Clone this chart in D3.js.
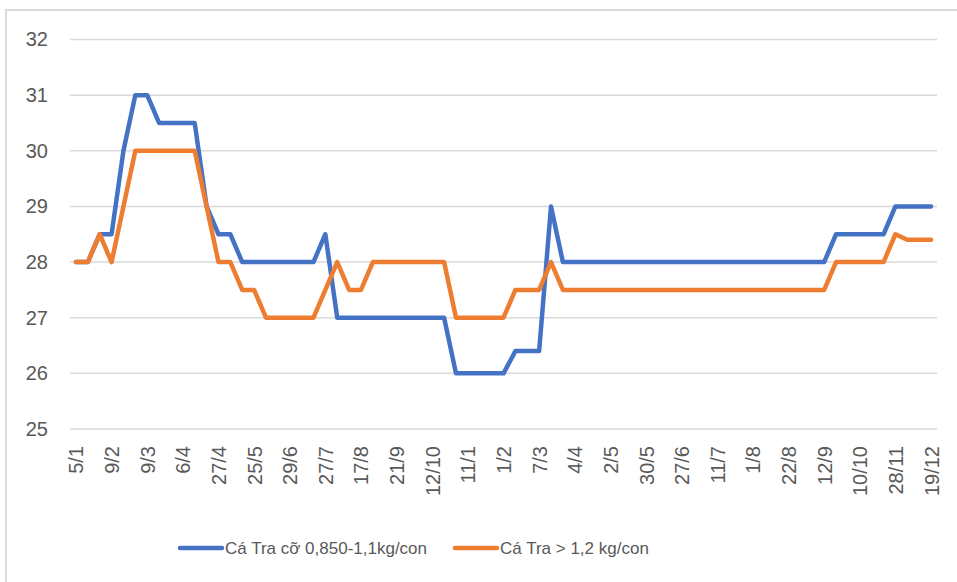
<!DOCTYPE html>
<html>
<head>
<meta charset="utf-8">
<script src="https://cdn.jsdelivr.net/npm/d3@7"></script>
<style>
  html, body { margin: 0; padding: 0; background: #fff; }
  svg text { font-family: "Liberation Sans", Arial, sans-serif; fill: #595959; }
</style>
</head>
<body>
<div id="chart"></div>
<script>
// Tick labels shown on the x axis (one every 3 observations).
const tickLabels = ["5/1", "9/2", "9/3", "6/4", "27/4", "25/5", "29/6", "27/7", "17/8", "21/9", "12/10", "11/1",
    "1/2", "7/3", "4/4", "2/5", "30/5", "27/6", "11/7", "1/8", "22/8", "12/9", "10/10", "28/11", "19/12"];
const labelStep = 3;

const smallFish = [28, 28, 28.5, 28.5, 30, 31, 31, 30.5, 30.5, 30.5, 30.5, 29, 28.5, 28.5, 28, 28, 28, 28, 28, 28, 28,
    28.5, 27, 27, 27, 27, 27, 27, 27, 27, 27, 27, 26, 26, 26, 26, 26, 26.4, 26.4, 26.4, 29, 28, 28, 28, 28, 28, 28, 28,
    28, 28, 28, 28, 28, 28, 28, 28, 28, 28, 28, 28, 28, 28, 28, 28, 28.5, 28.5, 28.5, 28.5, 28.5, 29, 29, 29, 29];
const bigFish = [28, 28, 28.5, 28, 29, 30, 30, 30, 30, 30, 30, 29, 28, 28, 27.5, 27.5, 27, 27, 27, 27, 27,
    27.5, 28, 27.5, 27.5, 28, 28, 28, 28, 28, 28, 28, 27, 27, 27, 27, 27, 27.5, 27.5, 27.5, 28, 27.5, 27.5, 27.5, 27.5,
    27.5, 27.5, 27.5, 27.5, 27.5, 27.5, 27.5, 27.5, 27.5, 27.5, 27.5, 27.5, 27.5, 27.5, 27.5, 27.5, 27.5, 27.5, 27.5,
    28, 28, 28, 28, 28, 28.5, 28.4, 28.4, 28.4];
const yTicks = [25, 26, 27, 28, 29, 30, 31, 32];

const seriesNames = ["Cá Tra cỡ 0,850-1,1kg/con", "Cá Tra > 1,2 kg/con"];
const seriesColors = ["#4472C4", "#ED7D31"];

// Chart dimensions and margins.
const width = 957;
const height = 582;
const marginLeft = 70;
const marginRight = 20;
const marginTop = 39.5;
const plotBottom = 429;

const svg = d3.create("svg")
    .attr("width", width)
    .attr("height", height);

d3.select("#chart").append(() => svg.node());

// Chart border (only top / left visible in the crop).
svg.append("rect")
    .attr("x", 6)
    .attr("y", 10)
    .attr("width", width + 20)
    .attr("height", height + 20)
    .attr("fill", "none")
    .attr("stroke", "#d9d9d9")
    .attr("stroke-width", 2);

const x = d3.scalePoint()
    .domain(d3.range(smallFish.length))
    .range([marginLeft, width - marginRight])
    .padding(0.5);

const y = d3.scaleLinear()
    .domain([25, 32])
    .range([plotBottom, marginTop]);

// Horizontal gridlines.
svg.append("g")
    .selectAll("line")
    .data(yTicks)
    .join("line")
    .attr("x1", marginLeft)
    .attr("x2", width - marginRight)
    .attr("y1", d => y(d))
    .attr("y2", d => y(d))
    .attr("stroke", "#d9d9d9")
    .attr("stroke-width", 1.5);

// Y axis labels.
const gy = svg.append("g")
    .attr("transform", `translate(${marginLeft},0)`)
    .call(d3.axisLeft(y).tickValues(yTicks).tickFormat(d3.format("d")).tickSize(0).tickPadding(22));
gy.select(".domain").remove();
gy.selectAll("text")
    .attr("font-size", 20)
    .attr("fill", "#595959");

// X axis labels, rotated.
const xTickIdx = tickLabels.map((d, i) => i * labelStep);
const gx = svg.append("g")
    .attr("transform", `translate(0,${plotBottom})`)
    .call(d3.axisBottom(x).tickValues(xTickIdx).tickFormat(d => tickLabels[d / labelStep]).tickSize(0));
gx.select(".domain").remove();
gx.selectAll("text")
    .attr("font-size", 20)
    .attr("fill", "#595959")
    .attr("text-anchor", "end")
    .attr("dy", "0.35em")
    .attr("transform", "translate(0,17) rotate(-90)")
    .attr("y", 0)
    .attr("x", 0);

// Lines.
const line = d3.line()
    .x((d, i) => x(i))
    .y(d => y(d));

[smallFish, bigFish].forEach((values, k) => {
    svg.append("path")
        .datum(values)
        .attr("fill", "none")
        .attr("stroke", seriesColors[k])
        .attr("stroke-width", 4.5)
        .attr("stroke-linejoin", "round")
        .attr("stroke-linecap", "round")
        .attr("d", line);
});

// Legend.
const legendX = [180, 455];
const legend = svg.append("g");
seriesNames.forEach((name, k) => {
    legend.append("line")
        .attr("x1", legendX[k])
        .attr("x2", legendX[k] + 42)
        .attr("y1", 548)
        .attr("y2", 548)
        .attr("stroke", seriesColors[k])
        .attr("stroke-width", 4.5)
        .attr("stroke-linecap", "round");
    legend.append("text")
        .attr("x", legendX[k] + 45)
        .attr("y", 548)
        .attr("dy", "0.35em")
        .attr("font-size", 17)
        .text(name);
});
</script>
</body>
</html>
